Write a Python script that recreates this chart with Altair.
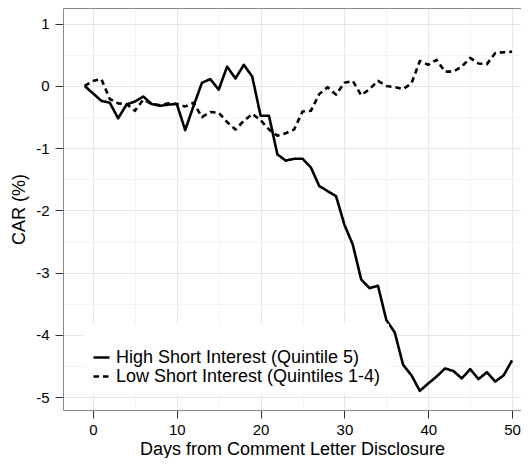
import altair as alt
import pandas as pd

# ---- data ----
days = list(range(-1, 51))

high_short = [
    0.00, -0.12, -0.24, -0.27, -0.52, -0.30, -0.25, -0.17, -0.29, -0.32,
    -0.30, -0.29, -0.71, -0.32, 0.05, 0.11, -0.06, 0.31, 0.12, 0.34,
    0.15, -0.48, -0.48, -1.10, -1.20, -1.17, -1.17, -1.31, -1.61, -1.69,
    -1.77, -2.23, -2.55, -3.11, -3.25, -3.21, -3.76, -3.96, -4.48, -4.65,
    -4.90, -4.78, -4.67, -4.54, -4.58, -4.70, -4.55, -4.71, -4.60, -4.75,
    -4.65, -4.41,
]

low_short = [
    0.00, 0.08, 0.11, -0.21, -0.28, -0.29, -0.40, -0.22, -0.29, -0.31,
    -0.28, -0.29, -0.33, -0.27, -0.50, -0.42, -0.43, -0.58, -0.70, -0.56,
    -0.45, -0.55, -0.70, -0.80, -0.76, -0.70, -0.41, -0.40, -0.13, -0.02,
    -0.14, 0.05, 0.08, -0.15, -0.05, 0.08, 0.00, -0.02, -0.05, 0.04,
    0.40, 0.34, 0.42, 0.23, 0.23, 0.31, 0.45, 0.36, 0.35, 0.53,
    0.54, 0.55,
]

series_names = [
    "High Short Interest (Quintile 5)",
    "Low Short Interest (Quintiles 1-4)",
]

x_grid_values = [0, 5, 10, 15, 20, 25, 30, 35, 40, 45, 50]
y_grid_values = [-5, -4.5, -4, -3.5, -3, -2.5, -2, -1.5, -1, -0.5, 0, 0.5, 1]

df = pd.DataFrame({
    "day": days + days,
    "car": high_short + low_short,
    "series": [series_names[0]] * len(days) + [series_names[1]] * len(days),
})

FONT = "Liberation Sans, Arial, Helvetica, sans-serif"
FRAME = "#8a8a8a"

x_scale = alt.Scale(domain=[-3.58, 51.07], nice=False, zero=False)
y_scale = alt.Scale(domain=[-5.207, 1.252], nice=False, zero=False)

x_axis = alt.Axis(
    values=x_grid_values,
    labelExpr="datum.value % 10 === 0 ? '' + datum.value : ''",
    title="Days from Comment Letter Disclosure",
    titleFontSize=18,
    titleFontWeight="normal",
    titleColor="#000000",
    titlePadding=3,
    labelFontSize=15,
    labelColor="#000000",
    labelPadding=4,
    tickSize=8,
    tickColor="#333333",
    tickOpacity={"condition": {"test": "datum.value % 10 === 0", "value": 1}, "value": 0},
    gridColor={"condition": {"test": "datum.value % 10 === 0", "value": "#e6e6e6"}, "value": "#f3f3f3"},
    gridWidth=1,
    domain=True,
    domainColor=FRAME,
    labelFlush=False,
)

y_axis = alt.Axis(
    values=y_grid_values,
    labelExpr="datum.value % 1 === 0 ? '' + datum.value : ''",
    title="CAR (%)",
    titleFontSize=18,
    titleFontWeight="normal",
    titleColor="#000000",
    titlePadding=7,
    labelFontSize=15,
    labelColor="#000000",
    labelPadding=6,
    tickSize=8,
    tickColor="#333333",
    tickOpacity={"condition": {"test": "datum.value % 1 === 0", "value": 1}, "value": 0},
    gridColor={"condition": {"test": "datum.value % 1 === 0", "value": "#e6e6e6"}, "value": "#f3f3f3"},
    gridWidth=1,
    domain=True,
    domainColor=FRAME,
    labelFlush=False,
)

legend = alt.Legend(
    orient="none",
    legendX=21,
    legendY=316,
    title=" ",
    titleFontSize=16,
    titlePadding=0,
    padding=8,
    fillColor="white",
    symbolType="stroke",
    symbolSize=256,
    symbolStrokeWidth=2.6,
    symbolStrokeColor="black",
    labelFontSize=18,
    labelColor="#000000",
    labelOffset=5,
    labelLimit=400,
    rowPadding=0,
)

lines = (
    alt.Chart(df)
    .mark_line(color="black", strokeWidth=2.6, strokeJoin="round", strokeCap="butt")
    .encode(
        x=alt.X("day:Q", scale=x_scale, axis=x_axis),
        y=alt.Y("car:Q", scale=y_scale, axis=y_axis),
        strokeDash=alt.StrokeDash(
            "series:N",
            scale=alt.Scale(domain=series_names, range=[[1, 0], [5.5, 4]]),
            legend=legend,
        ),
        order="day:Q",
    )
)

# invisible layer that only carries the top frame line of the panel
top_frame = (
    alt.Chart(df)
    .mark_point(opacity=0)
    .encode(
        x=alt.X(
            "day:Q",
            scale=x_scale,
            axis=alt.Axis(orient="top", domain=True, domainColor=FRAME, labels=False,
                          ticks=False, grid=False, title=None),
        ),
        y=alt.Y("car:Q", scale=y_scale, axis=None),
    )
)

chart = (
    alt.layer(lines, top_frame)
    .resolve_axis(x="independent", y="independent")
    .properties(
        width=458,
        height=402,
        autosize=alt.AutoSizeParams(type="none"),
        padding={"left": 55, "top": 0, "right": 0, "bottom": 48},
        background="white",
    )
    .configure(font=FONT)
    .configure_view(stroke=None)
)

chart.save("out.html", embed_options={"renderer": "svg", "actions": False})
